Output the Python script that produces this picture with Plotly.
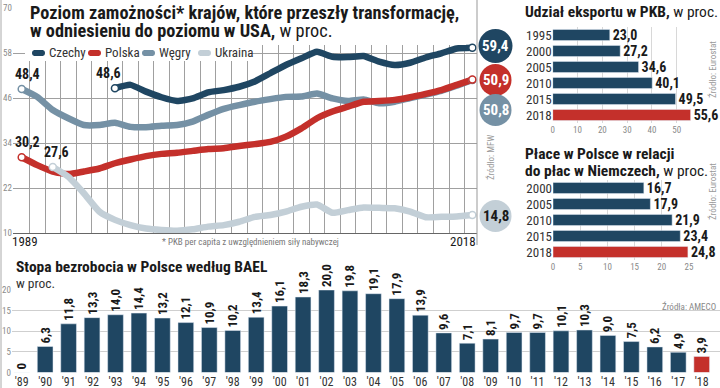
import plotly.graph_objects as go

W, H = 720, 388
def px(x): return x / W
def py(y): return 1 - y / H

FONT = "Liberation Sans Narrow, Roboto Condensed, Arial Narrow, Roboto, sans-serif"
NAVY = "#1f4662"
RED = "#c4302b"
HUN = "#7591a5"
UKR = "#c3cfd7"
DARK = "#1a1a1a"
GRID = "#a0a0a0"

# ---------------- data ----------------
years = list(range(1989, 2019))
czechy = [None]*6 + [48.6, 49.5, 47.7, 46.2, 45.2, 45.9, 47.5, 48.1, 49.0, 50.4,
                     52.6, 54.8, 56.6, 58.3, 57.0, 56.9, 57.2, 55.7, 54.8, 55.4,
                     56.8, 57.9, 59.2, 59.4]
polska = [30.2, 28.1, 26.4, 25.7, 26.4, 27.2, 28.6, 29.6, 30.5, 31.1,
          31.4, 31.9, 32.4, 32.6, 33.2, 33.7, 34.3, 35.7, 37.9, 40.6,
          42.4, 43.7, 45.0, 45.2, 45.5, 46.2, 47.1, 48.1, 49.5, 50.9]
wegry = [48.4, 46.3, 42.8, 40.6, 38.8, 38.8, 39.4, 38.3, 38.2, 38.6,
         38.8, 39.7, 41.5, 43.1, 44.1, 45.0, 45.7, 46.3, 46.4, 47.2,
         45.9, 45.2, 45.6, 44.6, 45.0, 46.0, 46.9, 47.9, 49.3, 50.8]
ukraina = [None]*2 + [27.6, 25.0, 20.6, 15.7, 13.5, 12.1, 11.2, 10.8,
                      10.6, 11.0, 11.7, 12.1, 13.0, 14.3, 14.8, 15.7, 17.0, 17.6,
                      15.4, 16.1, 16.8, 16.7, 16.6, 15.7, 14.2, 14.3, 14.4, 14.8]
line_ticks = [10, 22, 34, 46, 58, 70]

export_years = ["1995", "2000", "2005", "2010", "2015", "2018"]
export_vals = [23.0, 27.2, 34.6, 40.1, 49.5, 55.6]
export_ticks = [0, 10, 20, 30, 40, 50, 60]

wage_years = ["2000", "2005", "2010", "2015", "2018"]
wage_vals = [16.7, 17.9, 21.9, 23.4, 24.8]
wage_ticks = [0, 5, 10, 15, 20, 25]

unemp_labels = ["'89", "'90", "'91", "'92", "'93", "'94", "'95", "'96", "'97", "'98",
                "'99", "'00", "'01", "'02", "'03", "'04", "'05", "'06", "'07", "'08",
                "'09", "'10", "'11", "'12", "'13", "'14", "'15", "'16", "'17", "'18"]
unemp_vals = [0, 6.3, 11.8, 13.3, 14.0, 14.4, 13.2, 12.1, 10.9, 10.2,
              13.4, 16.1, 18.3, 20.0, 19.8, 19.1, 17.9, 13.9, 9.6, 7.1,
              8.1, 9.7, 9.7, 10.1, 10.3, 9.0, 7.5, 6.2, 4.9, 3.9]
unemp_ticks = [0, 5, 10, 15, 20]

def fmt(v):
    return "0" if v == 0 else f"{v:.1f}".replace(".", ",")

fig = go.Figure()

# ---------------- line chart ----------------
series = [("Węgry", wegry, HUN), ("Polska", polska, RED),
          ("Ukraina", ukraina, UKR), ("Czechy", czechy, NAVY)]
for name, vals, col in series:
    fig.add_trace(go.Scatter(x=years, y=vals, mode="lines", name=name,
                             line=dict(color=col, width=6.5, shape="spline", smoothing=0.5),
                             xaxis="x", yaxis="y", showlegend=False, hoverinfo="skip"))
for name, vals, col in series:
    idx = [i for i, v in enumerate(vals) if v is not None]
    ends = [idx[0], idx[-1]]
    fig.add_trace(go.Scatter(x=[years[i] for i in ends], y=[vals[i] for i in ends],
                             mode="markers", xaxis="x", yaxis="y", showlegend=False,
                             marker=dict(color="white", size=7, line=dict(color=col, width=1.5)),
                             cliponaxis=False, hoverinfo="skip"))

# ---------------- export bars ----------------
fig.add_trace(go.Bar(y=export_years, x=export_vals, orientation="h",
                     marker=dict(color=[NAVY]*(len(export_vals)-1) + [RED]),
                     text=[fmt(v) for v in export_vals], textposition="outside",
                     textfont=dict(family=FONT, size=14, color=DARK, weight="bold"),
                     cliponaxis=False, constraintext="none",
                     xaxis="x2", yaxis="y2", showlegend=False, hoverinfo="skip"))

# ---------------- wages bars ----------------
fig.add_trace(go.Bar(y=wage_years, x=wage_vals, orientation="h",
                     marker=dict(color=[NAVY]*(len(wage_vals)-1) + [RED]),
                     text=[fmt(v) for v in wage_vals], textposition="outside",
                     textfont=dict(family=FONT, size=14, color=DARK, weight="bold"),
                     cliponaxis=False, constraintext="none",
                     xaxis="x3", yaxis="y3", showlegend=False, hoverinfo="skip"))

# ---------------- unemployment bars ----------------
fig.add_trace(go.Bar(x=list(range(len(unemp_vals))), y=unemp_vals, width=0.67,
                     marker=dict(color=[NAVY]*(len(unemp_vals)-1) + [RED]),
                     text=[fmt(v) for v in unemp_vals], textposition="outside",
                     textangle=-90,
                     textfont=dict(family=FONT, size=13, color=DARK, weight="bold"),
                     cliponaxis=False, constraintext="none",
                     xaxis="x4", yaxis="y4", showlegend=False, hoverinfo="skip"))

tickfont_gray = dict(family=FONT, size=9, color="#8a8a8a")

fig.update_layout(
    width=W, height=H, margin=dict(l=0, r=0, t=0, b=0),
    paper_bgcolor="white", plot_bgcolor="white",
    font=dict(family=FONT, color=DARK),
    separators=", ",
    bargap=0.3,
    xaxis=dict(domain=[px(13), px(477)], range=[1988.44, 2018.30],
               tickvals=[1988.5 + k for k in range(31)], showticklabels=False,
               showgrid=True, gridcolor=GRID, gridwidth=1, zeroline=False,
               showline=True, linecolor="#666", linewidth=1, ticks=""),
    yaxis=dict(domain=[py(233), py(8)], range=[10, 70], tickvals=line_ticks,
               showgrid=True, gridcolor=GRID, zeroline=False, ticks="",
               tickfont=tickfont_gray, automargin=False),
    xaxis2=dict(domain=[px(552.7), px(690.7)], range=[0, 55.6], tickvals=export_ticks,
                showgrid=True, gridcolor="#d8d8d8", zeroline=False, ticks="",
                tickfont=tickfont_gray, anchor="y2", automargin=False),
    yaxis2=dict(domain=[py(123), py(27)], autorange="reversed", type="category",
                tickmode="array", tickvals=export_years, ticktext=export_years,
                showgrid=False, ticks="", anchor="x2",
                tickfont=dict(family=FONT, size=13, color="#333"), automargin=False),
    xaxis3=dict(domain=[px(553), px(689)], range=[0, 25], tickvals=wage_ticks,
                showgrid=True, gridcolor="#d8d8d8", zeroline=False, ticks="",
                tickfont=tickfont_gray, anchor="y3", automargin=False),
    yaxis3=dict(domain=[py(260), py(180)], autorange="reversed", type="category",
                tickmode="array", tickvals=wage_years, ticktext=wage_years,
                showgrid=False, ticks="", anchor="x3",
                tickfont=dict(family=FONT, size=13, color="#333"), automargin=False),
    xaxis4=dict(domain=[px(12), 1.0], range=[-0.414, 29.78],
                tickvals=list(range(len(unemp_labels))), ticktext=unemp_labels,
                showgrid=False, zeroline=False, ticks="", anchor="y4",
                tickfont=dict(family=FONT, size=12, color="#333"), automargin=False),
    yaxis4=dict(domain=[py(372.5), py(290)], range=[0, 20], tickvals=unemp_ticks,
                showgrid=True, gridcolor="#cfcfcf", zeroline=False, ticks="",
                tickfont=tickfont_gray, anchor="x4", automargin=False),
)

shapes = []
annotations = []

# frames
shapes.append(dict(type="line", xref="paper", yref="paper", x0=px(1), x1=px(1), y0=0, y1=1,
                   line=dict(color="#aaa", width=1)))
shapes.append(dict(type="line", xref="paper", yref="paper", x0=px(477), x1=px(477),
                   y0=py(245), y1=1, line=dict(color="#999", width=1)))

# title & legend backgrounds
shapes.append(dict(type="rect", xref="paper", yref="paper", x0=px(25), x1=px(466),
                   y0=py(45), y1=1, fillcolor="white", line=dict(width=0), layer="above"))
shapes.append(dict(type="rect", xref="paper", yref="paper", x0=px(25), x1=px(248),
                   y0=py(61), y1=py(45), fillcolor="white", line=dict(width=0), layer="above"))

annotations.append(dict(xref="paper", yref="paper", x=px(29), y=py(12.5), xanchor="left",
                        yanchor="middle", showarrow=False, borderpad=0,
                        text="<b>Poziom zamożności* krajów, które przeszły transformację,</b>",
                        font=dict(family=FONT, size=18.3, color=DARK)))
annotations.append(dict(xref="paper", yref="paper", x=px(29), y=py(30.5), xanchor="left",
                        yanchor="middle", showarrow=False, borderpad=0,
                        text="<b>w odniesieniu do poziomu w USA,</b> w proc.",
                        font=dict(family=FONT, size=18.3, color=DARK)))

# legend
leg = [("Czechy", NAVY, 32), ("Polska", RED, 88), ("Węgry", HUN, 142), ("Ukraina", UKR, 198)]
for name, col, x0 in leg:
    shapes.append(dict(type="line", xref="paper", yref="paper", x0=px(x0 + 2), x1=px(x0 + 11),
                       y0=py(53), y1=py(53), line=dict(color=col, width=6), layer="above"))
    shapes.append(dict(type="circle", xref="paper", yref="paper", x0=px(x0), x1=px(x0 + 6),
                       y0=py(56), y1=py(50), fillcolor=col, line=dict(width=0), layer="above"))
    shapes.append(dict(type="circle", xref="paper", yref="paper", x0=px(x0 + 7), x1=px(x0 + 13),
                       y0=py(56), y1=py(50), fillcolor=col, line=dict(width=0), layer="above"))
    annotations.append(dict(xref="paper", yref="paper", x=px(x0 + 15), y=py(53),
                            xanchor="left", yanchor="middle", showarrow=False, text=name,
                            font=dict(family=FONT, size=13, color="#333")))

# start labels on lines
def first(vals):
    i = next(i for i, v in enumerate(vals) if v is not None)
    return years[i], vals[i]
for vals, dx in [(wegry, 6), (czechy, -6), (polska, 6), (ukraina, 4)]:
    xv, yv = first(vals)
    annotations.append(dict(xref="x", yref="y", x=xv, y=yv, xshift=dx, yshift=5,
                            xanchor="center", yanchor="bottom", showarrow=False,
                            text=fmt(yv), font=dict(family=FONT, size=14, color=DARK, weight="bold")))

# end badges
badges = [(czechy[-1], NAVY, "white", 46, 17), (polska[-1], RED, "white", 80, 16),
          (wegry[-1], HUN, "white", 110, 16), (ukraina[-1], UKR, DARK, 216, 16)]
for v, col, tcol, cy, r in badges:
    cx = 495.5
    shapes.append(dict(type="circle", xref="paper", yref="paper", x0=px(cx - r), x1=px(cx + r),
                       y0=py(cy + r), y1=py(cy - r), fillcolor=col, line=dict(width=0),
                       layer="above"))
    annotations.append(dict(xref="paper", yref="paper", x=px(cx), y=py(cy), showarrow=False,
                            xanchor="center", yanchor="middle", text=fmt(v),
                            font=dict(family=FONT, size=15, color=tcol, weight="bold")))

annotations += [
    dict(xref="paper", yref="paper", x=px(25), y=py(241), showarrow=False, text="1989",
         xanchor="center", yanchor="middle", font=dict(family=FONT, size=13, color=DARK)),
    dict(xref="paper", yref="paper", x=px(478), y=py(241), showarrow=False, text="2018",
         xanchor="right", yanchor="middle", font=dict(family=FONT, size=13, color=DARK)),
    dict(xref="paper", yref="paper", x=px(250), y=py(242), showarrow=False,
         text="* PKB per capita z uwzględnieniem siły nabywczej",
         xanchor="center", yanchor="middle", font=dict(family=FONT, size=9, color="#777")),
    dict(xref="paper", yref="paper", x=px(490), y=py(158), showarrow=False, text="Źródło: MFW",
         textangle=-90, xanchor="center", yanchor="middle",
         font=dict(family=FONT, size=9, color="#999")),
    dict(xref="paper", yref="paper", x=px(523), y=py(12), showarrow=False,
         text="<b>Udział eksportu w PKB,</b> w proc.", xanchor="left", yanchor="middle",
         font=dict(family=FONT, size=15.5, color=DARK)),
    dict(xref="paper", yref="paper", x=px(712), y=py(70), showarrow=False,
         text="Źródło: Eurostat", textangle=-90, xanchor="center", yanchor="middle",
         font=dict(family=FONT, size=9, color="#999")),
    dict(xref="paper", yref="paper", x=px(523), y=py(154), showarrow=False,
         text="<b>Płace w Polsce w relacji</b>",
         xanchor="left", yanchor="middle", font=dict(family=FONT, size=15.5, color=DARK)),
    dict(xref="paper", yref="paper", x=px(523), y=py(171), showarrow=False,
         text="<b>do płac w Niemczech,</b> w proc.",
         xanchor="left", yanchor="middle", font=dict(family=FONT, size=15.5, color=DARK)),
    dict(xref="paper", yref="paper", x=px(712), y=py(192), showarrow=False,
         text="Źródło: Eurostat", textangle=-90, xanchor="center", yanchor="middle",
         font=dict(family=FONT, size=9, color="#999")),
    dict(xref="paper", yref="paper", x=px(14), y=py(267), showarrow=False,
         text="<b>Stopa bezrobocia w Polsce według BAEL</b>", xanchor="left", yanchor="middle",
         font=dict(family=FONT, size=15.5, color=DARK)),
    dict(xref="paper", yref="paper", x=px(14), y=py(283), showarrow=False,
         text="w proc.", xanchor="left", yanchor="middle",
         font=dict(family=FONT, size=13.5, color="#333")),
    dict(xref="paper", yref="paper", x=px(718), y=py(306), showarrow=False,
         text="Źródła: AMECO", xanchor="right", yanchor="middle",
         font=dict(family=FONT, size=9, color="#888")),
]

fig.update_layout(shapes=shapes, annotations=annotations)
fig.write_html("out.html", config={"displayModeBar": False},
               post_script="document.body.style.margin='0';document.body.style.overflow='hidden';")
